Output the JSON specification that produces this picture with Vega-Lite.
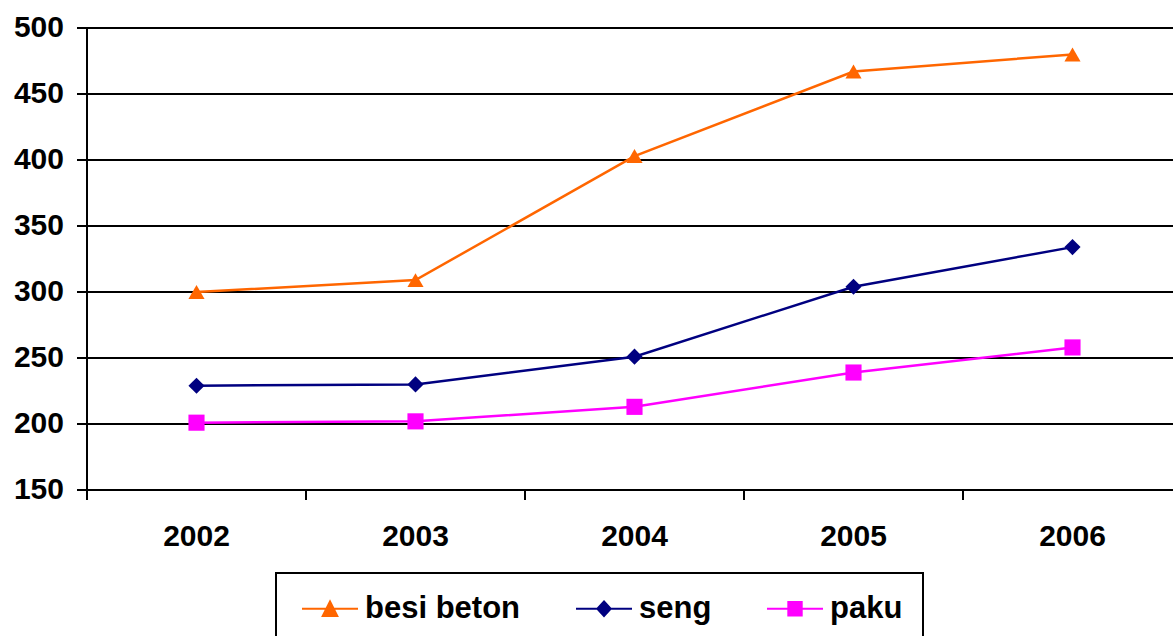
{
  "$schema": "https://vega.github.io/schema/vega-lite/v6.json",
  "width": 1086,
  "height": 462,
  "autosize": {"type": "none"},
  "padding": {"left": 87, "top": 28, "right": 0, "bottom": 146},
  "background": "white",
  "config": {
    "view": {"stroke": null},
    "font": "Liberation Sans",
    "legend": {
      "title": null,
      "orient": "none",
      "legendX": 189,
      "legendY": 545,
      "direction": "horizontal",
      "padding": 20,
      "strokeColor": "black",
      "strokeWidth": 2,
      "symbolSize": 36,
      "symbolStrokeWidth": 2,
      "symbolOpacity": 1,
      "labelFont": "Liberation Sans",
      "labelFontWeight": "bold",
      "labelFontSize": 31,
      "labelColor": "black",
      "labelOffset": 38,
      "columnPadding": 49
    }
  },
  "data": {
    "values": [
      {"year": "2002", "series": "besi beton", "value": 300},
      {"year": "2003", "series": "besi beton", "value": 309},
      {"year": "2004", "series": "besi beton", "value": 403},
      {"year": "2005", "series": "besi beton", "value": 467},
      {"year": "2006", "series": "besi beton", "value": 480},
      {"year": "2002", "series": "seng", "value": 229},
      {"year": "2003", "series": "seng", "value": 230},
      {"year": "2004", "series": "seng", "value": 251},
      {"year": "2005", "series": "seng", "value": 304},
      {"year": "2006", "series": "seng", "value": 334},
      {"year": "2002", "series": "paku", "value": 201},
      {"year": "2003", "series": "paku", "value": 202},
      {"year": "2004", "series": "paku", "value": 213},
      {"year": "2005", "series": "paku", "value": 239},
      {"year": "2006", "series": "paku", "value": 258}
    ]
  },
  "encoding": {
    "x": {
      "field": "year",
      "type": "ordinal",
      "scale": {"type": "band", "range": [0, 1095], "paddingInner": 0, "paddingOuter": 0},
      "axis": {
        "title": null,
        "labelAngle": 0,
        "labelFont": "Liberation Sans",
        "labelFontWeight": "bold",
        "labelFontSize": 30,
        "labelColor": "black",
        "labelPadding": 22,
        "domainColor": "black",
        "domainWidth": 2,
        "tickColor": "black",
        "tickWidth": 2,
        "tickSize": 10,
        "tickBand": "extent",
        "translate": 0,
        "grid": false
      }
    },
    "y": {
      "field": "value",
      "type": "quantitative",
      "scale": {"domain": [150, 500], "nice": false, "zero": false},
      "axis": {
        "title": null,
        "values": [150, 200, 250, 300, 350, 400, 450, 500],
        "labelFont": "Liberation Sans",
        "labelFontWeight": "bold",
        "labelFontSize": 30,
        "labelColor": "black",
        "labelPadding": 13,
        "domainColor": "black",
        "domainWidth": 2,
        "tickColor": "black",
        "tickWidth": 2,
        "tickSize": 10,
        "translate": 0,
        "grid": true,
        "gridColor": "black",
        "gridWidth": 2,
        "gridOpacity": 1
      }
    }
  },
  "layer": [
    {
      "mark": {"type": "line", "strokeWidth": 2.5},
      "encoding": {
        "color": {
          "field": "series",
          "type": "nominal",
          "scale": {"domain": ["besi beton", "seng", "paku"], "range": ["#FF6600", "#000080", "#FF00FF"]},
          "legend": null
        }
      }
    },
    {
      "mark": {"type": "point", "filled": true, "opacity": 1, "size": 260},
      "encoding": {
        "color": {
          "field": "series",
          "type": "nominal",
          "scale": {"domain": ["besi beton", "seng", "paku"], "range": ["#FF6600", "#000080", "#FF00FF"]},
          "legend": null
        },
        "shape": {
          "field": "series",
          "type": "nominal",
          "scale": {"domain": ["besi beton", "seng", "paku"], "range": ["triangle-up", "diamond", "square"]},
          "legend": null
        }
      }
    },
    {
      "transform": [{"filter": "false"}],
      "mark": {"type": "point", "size": 36, "strokeWidth": 2, "opacity": 1},
      "encoding": {
        "fill": {
          "field": "series",
          "type": "nominal",
          "scale": {"domain": ["besi beton", "seng", "paku"], "range": ["#FF6600", "#000080", "#FF00FF"]},
          "legend": {}
        },
        "stroke": {
          "field": "series",
          "type": "nominal",
          "scale": {"domain": ["besi beton", "seng", "paku"], "range": ["#FF6600", "#000080", "#FF00FF"]},
          "legend": {}
        },
        "shape": {
          "field": "series",
          "type": "nominal",
          "scale": {
            "domain": ["besi beton", "seng", "paku"],
            "range": [
              "M-3.17,0H15.5M6.17,-2.4L8.6,2.4L3.74,2.4Z",
              "M-3.17,0H15.5M6.17,-2.4L8.4,0L6.17,2.4L3.94,0Z",
              "M-3.17,0H15.5M3.94,-2.25H8.4V2.25H3.94Z"
            ]
          },
          "legend": {}
        }
      }
    }
  ],
  "resolve": {
    "scale": {"shape": "independent"},
    "legend": {"shape": "independent", "fill": "independent", "stroke": "independent"}
  }
}
